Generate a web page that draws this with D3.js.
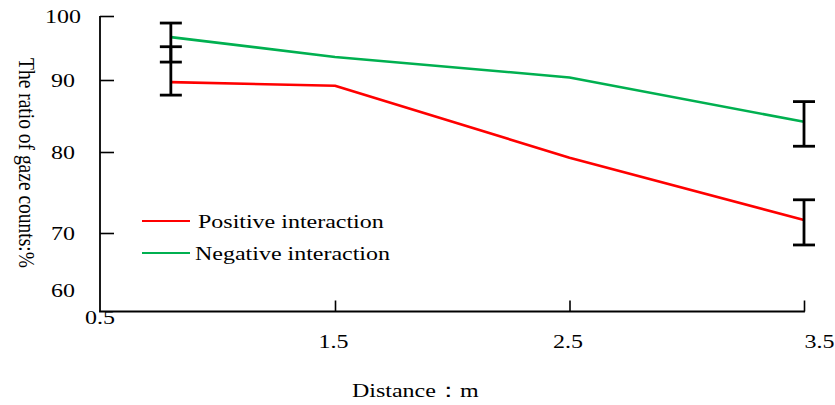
<!DOCTYPE html>
<html>
<head>
<meta charset="utf-8">
<script src="https://cdn.jsdelivr.net/npm/d3@7"></script>
<style>
  html, body { margin: 0; padding: 0; background: #fff; }
  svg { display: block; }
  text { font-family: "Liberation Serif", "Times New Roman", serif; fill: #000; }
</style>
</head>
<body>
<svg id="chart" width="835" height="405"></svg>
<script>
// ---- data ----
const distances = [0.8, 1.5, 2.5, 3.5];
const positive = [89.7, 89.2, 79.3, 71.6];
const negative = [96.7, 93.6, 90.4, 84.2];
const errDistances = [0.8, 3.5];
const positiveErrLow = [87.9, 67.9];
const positiveErrHigh = [95.2, 74.1];
const negativeErrLow = [92.8, 80.8];
const negativeErrHigh = [98.9, 87.0];
const seriesNames = ["Positive interaction", "Negative interaction"];
const seriesColors = ["#ff0000", "#00b050"];
const xTicks = [0.5, 1.5, 2.5, 3.5];
const yTicks = [60, 70, 80, 90, 100];
const xTitle = "Distance\uFF1Am";
const yTitle = "The ratio of gaze counts:%";

// ---- layout ----
const SX = 1.23;           // horizontal stretch of the original picture's text
const FONT = 19.5;
const axisLeftX = 100, axisBottomY = 311.5;

const svg = d3.select("#chart");

const x = d3.scaleLinear().domain([0.5, 3.5]).range([100.5, 804]);
// the original y axis is unevenly spaced: piecewise linear scale
const y = d3.scaleLinear().domain([60, 70, 80, 90, 100]).range([290, 233, 152, 80, 16]);

// axis lines
svg.append("line").attr("x1", axisLeftX).attr("x2", axisLeftX)
  .attr("y1", y(100)).attr("y2", axisBottomY)
  .attr("stroke", "#000").attr("stroke-width", 1.8);
svg.append("line").attr("x1", axisLeftX - 0.9).attr("x2", x(3.5) + 0.9)
  .attr("y1", axisBottomY).attr("y2", axisBottomY)
  .attr("stroke", "#000").attr("stroke-width", 1.8);

// y axis (ticks point inward to the right)
const gy = svg.append("g").attr("transform", `translate(${axisLeftX},0)`)
  .call(d3.axisLeft(y).tickValues(yTicks).tickSize(-14).tickFormat(d3.format("d")));
gy.select(".domain").remove();
gy.selectAll(".tick line").attr("stroke", "#000").attr("stroke-width", 1.6)
  .filter(d => d === 60).remove();
gy.selectAll(".tick text")
  .attr("x", null).attr("dy", null).attr("y", null)
  .attr("text-anchor", "middle")
  .style("font-size", FONT + "px")
  .attr("transform", `translate(-37,6.5) scale(${SX},1)`);

// x axis (ticks point upward)
const gx = svg.append("g").attr("transform", `translate(0,${axisBottomY})`)
  .call(d3.axisBottom(x).tickValues(xTicks).tickSize(-11).tickFormat(d3.format(".1f")));
gx.select(".domain").remove();
gx.selectAll(".tick line").attr("stroke", "#000").attr("stroke-width", 1.6)
  .filter(d => d === 0.5).remove();
gx.selectAll(".tick text")
  .attr("x", null).attr("dy", null).attr("y", null)
  .attr("text-anchor", "middle")
  .style("font-size", FONT + "px")
  .attr("transform", d => {
    let dx = -2, dy = 36.5;
    if (d === 0.5) { dx = -1; dy = 12; }
    if (d === 3.5) { dx = 15; }
    return `translate(${dx},${dy}) scale(${SX},1)`;
  });

// axis titles
svg.append("text").text(xTitle)
  .attr("text-anchor", "start").style("font-size", FONT + "px")
  .attr("transform", `translate(352,397) scale(${SX},1)`);
svg.append("text").text(yTitle)
  .attr("text-anchor", "middle").style("font-size", FONT + "px")
  .attr("transform", `translate(19,163) scale(${SX},1) rotate(90)`);

// lines
const series = [positive, negative];
const line = d3.line().x((d, i) => x(distances[i])).y(d => y(d));
series.forEach((vals, si) => {
  svg.append("path").datum(vals)
    .attr("d", line)
    .attr("fill", "none")
    .attr("stroke", seriesColors[si])
    .attr("stroke-width", 2.6)
    .attr("stroke-linejoin", "round");
});

// error bars
const errs = [
  { low: positiveErrLow, high: positiveErrHigh },
  { low: negativeErrLow, high: negativeErrHigh }
];
const capHalf = 11;
errs.forEach(e => {
  errDistances.forEach((dval, i) => {
    const cx = x(dval);
    const g = svg.append("g").attr("stroke", "#000");
    g.append("line").attr("x1", cx).attr("x2", cx)
      .attr("y1", y(e.high[i])).attr("y2", y(e.low[i])).attr("stroke-width", 2.8);
    [e.high[i], e.low[i]].forEach(v => {
      g.append("line").attr("x1", cx - capHalf).attr("x2", cx + capHalf)
        .attr("y1", y(v)).attr("y2", y(v)).attr("stroke-width", 2.8);
    });
  });
});

// legend
const legendRows = [221, 253];
const legendTextX = [198, 195];
seriesNames.forEach((name, i) => {
  svg.append("line").attr("x1", 142).attr("x2", 190)
    .attr("y1", legendRows[i]).attr("y2", legendRows[i])
    .attr("stroke", seriesColors[i]).attr("stroke-width", 2.2);
  svg.append("text").text(name)
    .style("font-size", FONT + "px")
    .attr("transform", `translate(${legendTextX[i]},${legendRows[i] + 7}) scale(${SX},1)`);
});
</script>
</body>
</html>
